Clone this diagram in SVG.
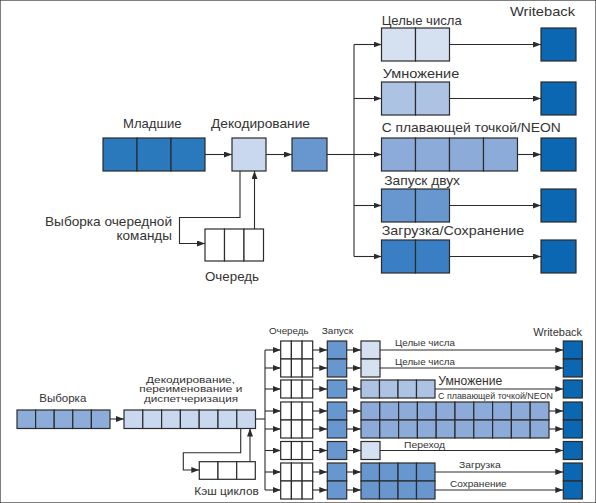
<svg xmlns="http://www.w3.org/2000/svg" width="596" height="503" viewBox="0 0 596 503">
<defs>
<marker id="ah" viewBox="0 0 8 6" refX="8" refY="3" markerWidth="8" markerHeight="6" markerUnits="userSpaceOnUse" orient="auto">
<path d="M0,0 L8,3 L0,6 Z" fill="#2b2b2b"/>
</marker>
</defs>
<style>
rect{stroke:#2b2b2b;stroke-width:1.2}
.c{stroke:#2b2b2b;stroke-width:1.1;fill:none}
.a{stroke:#2b2b2b;stroke-width:1.1;fill:none;marker-end:url(#ah)}
text{font-family:"Liberation Sans",Arial,sans-serif;fill:#333;font-size:13.5px}
.f12{font-size:12px}
.f11{font-size:11px}
.f10{font-size:8.6px}
.f9{font-size:9.5px}
.f8{font-size:8.5px}
.w{fill:#fff}
.l1{fill:#d5e0f1}
.l2{fill:#adc3e4}
.l3{fill:#8cabd8}
.l4{fill:#6896ce}
.l5{fill:#3a7fc3}
.wb{fill:#0b67b2}
.ml{fill:#2a79bd}
.dc{fill:#c9d8ef}
.fe{fill:#8eacd9}
</style>
<rect width="596" height="503" fill="#fff" stroke="none"/>

<!-- TOP DIAGRAM -->
<g id="top-connectors">
<path class="a" d="M205,154.5 H232"/>
<path class="a" d="M266,154.5 H292"/>
<path class="c" d="M327,154.5 H354"/>
<path class="c" d="M354,44.5 V256.5"/>
<path class="a" d="M354,44.5 H381.5"/>
<path class="a" d="M354,98.5 H381.5"/>
<path class="a" d="M354,154.5 H381.5"/>
<path class="a" d="M354,205.5 H381.5"/>
<path class="a" d="M354,256.5 H381.5"/>
<path class="a" d="M449.5,44.5 H541"/>
<path class="a" d="M449.5,98.5 H541"/>
<path class="a" d="M517.5,154.5 H541"/>
<path class="a" d="M449.5,205.5 H541"/>
<path class="a" d="M449.5,256.5 H541"/>
<path class="a" d="M240,171 V217.5 H179.5 V243.5 H205"/>
<path class="a" d="M254.5,229 V171"/>
</g>

<g id="mladshie">
<rect class="ml" x="103" y="138" width="34" height="33"/>
<rect class="ml" x="137" y="138" width="34" height="33"/>
<rect class="ml" x="171" y="138" width="34" height="33"/>
<text x="123" y="128" textLength="58.5" lengthAdjust="spacingAndGlyphs">Младшие</text>
</g>
<g id="decode">
<rect class="dc" x="232" y="138" width="34" height="33"/>
<text x="211" y="128" textLength="99" lengthAdjust="spacingAndGlyphs">Декодирование</text>
</g>
<g id="issue-top">
<rect class="l4" x="292" y="138" width="35" height="33"/>
</g>
<g id="queue-top">
<rect class="w" x="205" y="229" width="19.5" height="32"/>
<rect class="w" x="224.5" y="229" width="19.5" height="32"/>
<rect class="w" x="244" y="229" width="19.5" height="32"/>
<text x="205" y="281" textLength="54" lengthAdjust="spacingAndGlyphs">Очередь</text>
</g>
<g id="fetch-label">
<text x="45" y="226" textLength="127" lengthAdjust="spacingAndGlyphs">Выборка очередной</text>
<text x="116.5" y="239.5" textLength="55.5" lengthAdjust="spacingAndGlyphs">команды</text>
</g>
<g id="int-top">
<rect class="l1" x="381.5" y="28" width="34" height="33"/>
<rect class="l1" x="415.5" y="28" width="34" height="33"/>
<text x="381.7" y="25" textLength="80" lengthAdjust="spacingAndGlyphs">Целые числа</text>
</g>
<g id="mul-top">
<rect class="l2" x="381.5" y="82" width="34" height="33"/>
<rect class="l2" x="415.5" y="82" width="34" height="33"/>
<text x="382.7" y="78" textLength="76.6" lengthAdjust="spacingAndGlyphs">Умножение</text>
</g>
<g id="fp-top">
<rect class="l3" x="381.5" y="138" width="34" height="33"/>
<rect class="l3" x="415.5" y="138" width="34" height="33"/>
<rect class="l3" x="449.5" y="138" width="34" height="33"/>
<rect class="l3" x="483.5" y="138" width="34" height="33"/>
<text x="381.7" y="132" textLength="179" lengthAdjust="spacingAndGlyphs">С плавающей точкой/NEON</text>
</g>
<g id="dual-top">
<rect class="l4" x="381.5" y="189" width="34" height="33"/>
<rect class="l4" x="415.5" y="189" width="34" height="33"/>
<text x="384.3" y="185" textLength="75.7" lengthAdjust="spacingAndGlyphs">Запуск двух</text>
</g>
<g id="ls-top">
<rect class="l5" x="381.5" y="240" width="34" height="33"/>
<rect class="l5" x="415.5" y="240" width="34" height="33"/>
<text x="381.7" y="235" textLength="142.6" lengthAdjust="spacingAndGlyphs">Загрузка/Сохранение</text>
</g>
<g id="wb-top">
<rect class="wb" x="541" y="28" width="35" height="33"/>
<rect class="wb" x="541" y="82" width="35" height="33"/>
<rect class="wb" x="541" y="138" width="35" height="33"/>
<rect class="wb" x="541" y="189" width="35" height="33"/>
<rect class="wb" x="541" y="240" width="35" height="33"/>
<text x="510" y="16" textLength="65" lengthAdjust="spacingAndGlyphs">Writeback</text>
</g>

<!-- BOTTOM DIAGRAM -->
<g id="bottom-connectors">
<path class="a" d="M110,419 H124"/>
<path class="c" d="M255.5,419 H265"/>
<path class="c" d="M265,350 V490"/>
<path class="a" d="M265,350 H280.7"/>
<path class="a" d="M265,368 H280.7"/>
<path class="a" d="M265,389 H280.7"/>
<path class="a" d="M265,411 H280.7"/>
<path class="a" d="M265,429 H280.7"/>
<path class="a" d="M265,450.5 H280.7"/>
<path class="a" d="M265,472 H280.7"/>
<path class="a" d="M265,490 H280.7"/>
<path class="a" d="M312.7,350 H327.3"/>
<path class="a" d="M312.7,368 H327.3"/>
<path class="a" d="M312.7,389 H327.3"/>
<path class="a" d="M312.7,411 H327.3"/>
<path class="a" d="M312.7,429 H327.3"/>
<path class="a" d="M312.7,450.5 H327.3"/>
<path class="a" d="M312.7,472 H327.3"/>
<path class="a" d="M312.7,490 H327.3"/>
<path class="a" d="M346.7,350 H361"/>
<path class="a" d="M346.7,368 H361"/>
<path class="a" d="M346.7,389 H361"/>
<path class="a" d="M346.7,411 H361"/>
<path class="a" d="M346.7,429 H361"/>
<path class="a" d="M346.7,450.5 H361"/>
<path class="a" d="M346.7,472 H361"/>
<path class="a" d="M346.7,490 H361"/>
<path class="a" d="M380,350 H563.3"/>
<path class="a" d="M380,368 H563.3"/>
<path class="a" d="M435,389 H563.3"/>
<path class="a" d="M549,411 H563.3"/>
<path class="a" d="M549,429 H563.3"/>
<path class="a" d="M380,450.5 H563.3"/>
<path class="a" d="M435,472 H563.3"/>
<path class="a" d="M435,490 H563.3"/>
<path class="a" d="M240.7,428.5 V452.7 H183.3 V470 H199.3"/>
<path class="a" d="M250,461.7 V428.5"/>
</g>

<g id="fetch">
<rect class="fe" x="17" y="410" width="18.6" height="18.5"/>
<rect class="fe" x="35.6" y="410" width="18.6" height="18.5"/>
<rect class="fe" x="54.2" y="410" width="18.6" height="18.5"/>
<rect class="fe" x="72.8" y="410" width="18.6" height="18.5"/>
<rect class="fe" x="91.4" y="410" width="18.6" height="18.5"/>
<text class="f11" x="39.3" y="401.5" textLength="47" lengthAdjust="spacingAndGlyphs">Выборка</text>
</g>
<g id="decode-rename">
<rect class="dc" x="124" y="410" width="18.8" height="18.5"/>
<rect class="dc" x="142.8" y="410" width="18.8" height="18.5"/>
<rect class="dc" x="161.6" y="410" width="18.8" height="18.5"/>
<rect class="dc" x="180.4" y="410" width="18.8" height="18.5"/>
<rect class="dc" x="199.2" y="410" width="18.8" height="18.5"/>
<rect class="dc" x="218" y="410" width="18.8" height="18.5"/>
<rect class="dc" x="236.8" y="410" width="18.7" height="18.5"/>
<text class="f10" x="146" y="382.5" textLength="89" lengthAdjust="spacingAndGlyphs">Декодирование,</text>
<text class="f10" x="139.3" y="392" textLength="103" lengthAdjust="spacingAndGlyphs">переименование и</text>
<text class="f10" x="144" y="401.5" textLength="94" lengthAdjust="spacingAndGlyphs">диспетчеризация</text>
</g>
<g id="loop-cache">
<rect class="w" x="199.3" y="461.7" width="18.7" height="17.6"/>
<rect class="w" x="218" y="461.7" width="18.7" height="17.6"/>
<rect class="w" x="236.7" y="461.7" width="18.6" height="17.6"/>
<text class="f11" x="194.3" y="495" textLength="64.5" lengthAdjust="spacingAndGlyphs">Кэш циклов</text>
</g>
<g id="queues">
<rect class="w" x="280.7" y="341" width="10.7" height="18"/><rect class="w" x="291.4" y="341" width="10.7" height="18"/><rect class="w" x="302.1" y="341" width="10.6" height="18"/>
<rect class="w" x="280.7" y="359" width="10.7" height="18"/><rect class="w" x="291.4" y="359" width="10.7" height="18"/><rect class="w" x="302.1" y="359" width="10.6" height="18"/>
<rect class="w" x="280.7" y="380" width="10.7" height="18"/><rect class="w" x="291.4" y="380" width="10.7" height="18"/><rect class="w" x="302.1" y="380" width="10.6" height="18"/>
<rect class="w" x="280.7" y="402" width="10.7" height="18"/><rect class="w" x="291.4" y="402" width="10.7" height="18"/><rect class="w" x="302.1" y="402" width="10.6" height="18"/>
<rect class="w" x="280.7" y="420" width="10.7" height="18"/><rect class="w" x="291.4" y="420" width="10.7" height="18"/><rect class="w" x="302.1" y="420" width="10.6" height="18"/>
<rect class="w" x="280.7" y="441.5" width="10.7" height="18"/><rect class="w" x="291.4" y="441.5" width="10.7" height="18"/><rect class="w" x="302.1" y="441.5" width="10.6" height="18"/>
<rect class="w" x="280.7" y="463" width="10.7" height="18"/><rect class="w" x="291.4" y="463" width="10.7" height="18"/><rect class="w" x="302.1" y="463" width="10.6" height="18"/>
<rect class="w" x="280.7" y="481" width="10.7" height="18"/><rect class="w" x="291.4" y="481" width="10.7" height="18"/><rect class="w" x="302.1" y="481" width="10.6" height="18"/>
<text class="f8" x="269" y="333.5" textLength="39.5" lengthAdjust="spacingAndGlyphs">Очередь</text>
</g>
<g id="issue">
<rect class="l4" x="327.3" y="341" width="19.4" height="18"/>
<rect class="l4" x="327.3" y="359" width="19.4" height="18"/>
<rect class="l4" x="327.3" y="380" width="19.4" height="18"/>
<rect class="l4" x="327.3" y="402" width="19.4" height="18"/>
<rect class="l4" x="327.3" y="420" width="19.4" height="18"/>
<rect class="l4" x="327.3" y="441.5" width="19.4" height="18"/>
<rect class="l4" x="327.3" y="463" width="19.4" height="18"/>
<rect class="l4" x="327.3" y="481" width="19.4" height="18"/>
<text class="f8" x="321.7" y="333.5" textLength="31.6" lengthAdjust="spacingAndGlyphs">Запуск</text>
</g>
<g id="int-bottom">
<rect class="l1" x="361" y="341" width="19" height="18"/>
<rect class="l1" x="361" y="359" width="19" height="18"/>
<text class="f9" x="395" y="346" textLength="60" lengthAdjust="spacingAndGlyphs">Целые числа</text>
<text class="f9" x="395" y="364.5" textLength="60" lengthAdjust="spacingAndGlyphs">Целые числа</text>
</g>
<g id="mul-bottom">
<rect class="l2" x="361" y="380" width="18.5" height="18"/>
<rect class="l2" x="379.5" y="380" width="18.5" height="18"/>
<rect class="l2" x="398" y="380" width="18.5" height="18"/>
<rect class="l2" x="416.5" y="380" width="18.5" height="18"/>
<text class="f12" x="438.3" y="385" textLength="64" lengthAdjust="spacingAndGlyphs">Умножение</text>
</g>
<g id="fp-bottom">
<rect class="l3" x="361" y="402" width="18.8" height="18"/><rect class="l3" x="379.8" y="402" width="18.8" height="18"/><rect class="l3" x="398.6" y="402" width="18.8" height="18"/><rect class="l3" x="417.4" y="402" width="18.8" height="18"/><rect class="l3" x="436.2" y="402" width="18.8" height="18"/><rect class="l3" x="455" y="402" width="18.8" height="18"/><rect class="l3" x="473.8" y="402" width="18.8" height="18"/><rect class="l3" x="492.6" y="402" width="18.8" height="18"/><rect class="l3" x="511.4" y="402" width="18.8" height="18"/><rect class="l3" x="530.2" y="402" width="18.8" height="18"/>
<rect class="l3" x="361" y="420" width="18.8" height="18"/><rect class="l3" x="379.8" y="420" width="18.8" height="18"/><rect class="l3" x="398.6" y="420" width="18.8" height="18"/><rect class="l3" x="417.4" y="420" width="18.8" height="18"/><rect class="l3" x="436.2" y="420" width="18.8" height="18"/><rect class="l3" x="455" y="420" width="18.8" height="18"/><rect class="l3" x="473.8" y="420" width="18.8" height="18"/><rect class="l3" x="492.6" y="420" width="18.8" height="18"/><rect class="l3" x="511.4" y="420" width="18.8" height="18"/><rect class="l3" x="530.2" y="420" width="18.8" height="18"/>
<text class="f9" x="438" y="399.3" textLength="115" lengthAdjust="spacingAndGlyphs">С плавающей точкой/NEON</text>
</g>
<g id="branch-bottom">
<rect class="l1" x="361" y="441.5" width="19" height="18"/>
<text class="f9" x="404" y="447.5" textLength="41" lengthAdjust="spacingAndGlyphs">Переход</text>
</g>
<g id="ls-bottom">
<rect class="l4" x="361" y="463" width="18.5" height="18"/><rect class="l4" x="379.5" y="463" width="18.5" height="18"/><rect class="l4" x="398" y="463" width="18.5" height="18"/><rect class="l4" x="416.5" y="463" width="18.5" height="18"/>
<rect class="l4" x="361" y="481" width="18.5" height="18"/><rect class="l4" x="379.5" y="481" width="18.5" height="18"/><rect class="l4" x="398" y="481" width="18.5" height="18"/><rect class="l4" x="416.5" y="481" width="18.5" height="18"/>
<text class="f9" x="459" y="468" textLength="41.7" lengthAdjust="spacingAndGlyphs">Загрузка</text>
<text class="f9" x="450" y="486.5" textLength="56.7" lengthAdjust="spacingAndGlyphs">Сохранение</text>
</g>
<g id="wb-bottom">
<rect class="wb" x="563.3" y="341" width="19" height="18"/>
<rect class="wb" x="563.3" y="359" width="19" height="18"/>
<rect class="wb" x="563.3" y="380" width="19" height="18"/>
<rect class="wb" x="563.3" y="402" width="19" height="18"/>
<rect class="wb" x="563.3" y="420" width="19" height="18"/>
<rect class="wb" x="563.3" y="441.5" width="19" height="18"/>
<rect class="wb" x="563.3" y="463" width="19" height="18"/>
<rect class="wb" x="563.3" y="481" width="19" height="18"/>
<text class="f11" x="533.3" y="336" textLength="48.7" lengthAdjust="spacingAndGlyphs">Writeback</text>
</g>
</svg>
